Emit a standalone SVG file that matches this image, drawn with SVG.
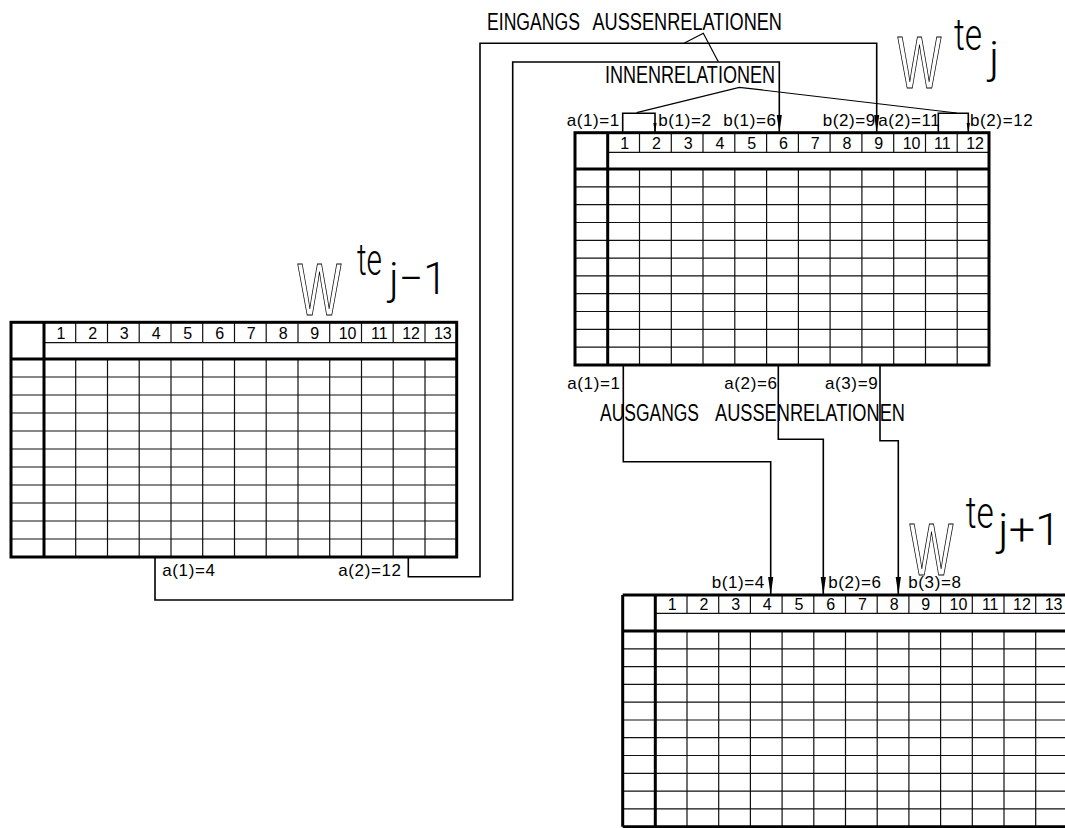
<svg xmlns="http://www.w3.org/2000/svg" width="1065" height="828" viewBox="0 0 1065 828">
<style>
text{font-family:"Liberation Sans",Arial,sans-serif;fill:#000}
.thick{stroke:#000;stroke-width:3;fill:none}
.thin{stroke:#111;stroke-width:1.2;fill:none}
.conn{stroke:#000;stroke-width:1.6;fill:none}
.lead{stroke:#000;stroke-width:1.2;fill:none}
.lbl{font-size:17px;letter-spacing:0.6px}
.num{font-size:16px;text-anchor:middle}
.big{font-size:23.3px}
.W{font-size:75px;fill:none;stroke:#000;stroke-width:1.1}
.sup{font-family:Roboto,"Liberation Sans",Arial,sans-serif;font-weight:300;font-size:45px}
</style>
<defs>
<marker id="ab" markerUnits="userSpaceOnUse" markerWidth="18" markerHeight="6" viewBox="0 0 18 6" refX="18" refY="3" orient="auto"><path d="M0,0.4 L18,3 L0,5.6 z" fill="#000"/></marker>
<marker id="as" markerUnits="userSpaceOnUse" markerWidth="10" markerHeight="4" viewBox="0 0 10 4" refX="10" refY="2" orient="auto"><path d="M0,0.3 L10,2 L0,3.7 z" fill="#000"/></marker>
</defs>
<rect width="1065" height="828" fill="#fff"/>

<!-- Table W^te_j -->
<g id="table-tej">
<path class="thin" d="M607.7 152.3H989M639.5 132.7V152.3M671.3 132.7V152.3M703 132.7V152.3M734.8 132.7V152.3M766.6 132.7V152.3M798.4 132.7V152.3M830.1 132.7V152.3M861.9 132.7V152.3M893.7 132.7V152.3M925.5 132.7V152.3M957.2 132.7V152.3M639.5 169V365M671.3 169V365M703 169V365M734.8 169V365M766.6 169V365M798.4 169V365M830.1 169V365M861.9 169V365M893.7 169V365M925.5 169V365M957.2 169V365M575 186.8H989M575 204.6H989M575 222.5H989M575 240.3H989M575 258.1H989M575 275.9H989M575 293.7H989M575 311.5H989M575 329.4H989M575 347.2H989"/>
<rect class="thick" x="575" y="132.7" width="414" height="232.3"/>
<path class="thick" d="M607.7 132.7V365M575 169H989"/>
<g class="num">
<text x="624.6" y="148.5">1</text><text x="656.4" y="148.5">2</text><text x="688.2" y="148.5">3</text><text x="719.9" y="148.5">4</text><text x="751.7" y="148.5">5</text><text x="783.5" y="148.5">6</text><text x="815.2" y="148.5">7</text><text x="847" y="148.5">8</text><text x="878.8" y="148.5">9</text><text x="911.6" y="148.5">10</text><text x="942.3" y="148.5">11</text><text x="975.1" y="148.5">12</text>
</g>
<text class="W" transform="translate(897.5,88.3) scale(0.62,1)">W</text>
<text class="sup" x="954" y="50" textLength="28" lengthAdjust="spacingAndGlyphs">te</text>
<text class="sup" x="989" y="72.5">j</text>
</g>

<!-- Table W^te_j-1 -->
<g id="table-tej-1">
<path class="thin" d="M44 342.7H456.7M75.7 322.3V342.7M107.5 322.3V342.7M139.2 322.3V342.7M171 322.3V342.7M202.7 322.3V342.7M234.5 322.3V342.7M266.2 322.3V342.7M298 322.3V342.7M329.7 322.3V342.7M361.5 322.3V342.7M393.2 322.3V342.7M425 322.3V342.7M75.7 359V557M107.5 359V557M139.2 359V557M171 359V557M202.7 359V557M234.5 359V557M266.2 359V557M298 359V557M329.7 359V557M361.5 359V557M393.2 359V557M425 359V557M11 377H456.7M11 395H456.7M11 413H456.7M11 431H456.7M11 449H456.7M11 467H456.7M11 485H456.7M11 503H456.7M11 521H456.7M11 539H456.7"/>
<rect class="thick" x="11" y="322.3" width="445.7" height="234.7"/>
<path class="thick" d="M44 322.3V557M11 359H456.7"/>
<g class="num">
<text x="60.9" y="338.5">1</text><text x="92.6" y="338.5">2</text><text x="124.3" y="338.5">3</text><text x="156.1" y="338.5">4</text><text x="187.8" y="338.5">5</text><text x="219.6" y="338.5">6</text><text x="251.3" y="338.5">7</text><text x="283.1" y="338.5">8</text><text x="314.8" y="338.5">9</text><text x="347.6" y="338.5">10</text><text x="379.3" y="338.5">11</text><text x="411.1" y="338.5">12</text><text x="442.8" y="338.5">13</text>
</g>
<text class="W" transform="translate(297.5,315) scale(0.62,1)">W</text>
<text class="sup" x="357" y="275" textLength="25" lengthAdjust="spacingAndGlyphs">te</text>
<text class="sup" x="389" y="293.5" textLength="58" lengthAdjust="spacingAndGlyphs">j−1</text>
<text class="lbl" x="162.3" y="575.5">a(1)=4</text>
<text class="lbl" x="338.3" y="575.5">a(2)=12</text>
</g>

<!-- Table W^te_j+1 -->
<g id="table-tej1">
<path class="thin" d="M655.3 613.3H1070M687 595V613.3M718.7 595V613.3M750.4 595V613.3M782.1 595V613.3M813.8 595V613.3M845.5 595V613.3M877.2 595V613.3M908.9 595V613.3M940.6 595V613.3M972.3 595V613.3M1004 595V613.3M1035.7 595V613.3M687 631V826.7M718.7 631V826.7M750.4 631V826.7M782.1 631V826.7M813.8 631V826.7M845.5 631V826.7M877.2 631V826.7M908.9 631V826.7M940.6 631V826.7M972.3 631V826.7M1004 631V826.7M1035.7 631V826.7M622.7 648.8H1070M622.7 666.6H1070M622.7 684.4H1070M622.7 702.2H1070M622.7 720H1070M622.7 737.7H1070M622.7 755.5H1070M622.7 773.3H1070M622.7 791.1H1070M622.7 808.9H1070"/>
<path class="thick" d="M622.7 595H1070M622.7 595V826.7M655.3 595V826.7M622.7 631H1070M622.7 826.7H1070"/>
<g class="num">
<text x="672.2" y="609.5">1</text><text x="703.9" y="609.5">2</text><text x="735.6" y="609.5">3</text><text x="767.3" y="609.5">4</text><text x="799" y="609.5">5</text><text x="830.7" y="609.5">6</text><text x="862.4" y="609.5">7</text><text x="894.1" y="609.5">8</text><text x="925.8" y="609.5">9</text><text x="958.5" y="609.5">10</text><text x="990.2" y="609.5">11</text><text x="1021.9" y="609.5">12</text><text x="1053.6" y="609.5">13</text>
</g>
<text class="W" transform="translate(909.5,575) scale(0.62,1)">W</text>
<text class="sup" x="965.7" y="528" textLength="28" lengthAdjust="spacingAndGlyphs">te</text>
<text class="sup" x="998" y="545" textLength="63" lengthAdjust="spacingAndGlyphs">j+1</text>
</g>

<!-- Connectors -->
<g id="connectors">
<path class="conn" d="M408.3 557V576.7H480V43.3H876.7V132.7" marker-end="url(#ab)"/>
<path class="conn" d="M155 557V600H512.7V62H779.3V132.7" marker-end="url(#ab)"/>
<path class="conn" d="M622.7 132.7V113.3H655V132.7" marker-end="url(#as)"/>
<path class="conn" d="M938.3 132.7V113.3H968.3V132.7" marker-end="url(#as)"/>
<path class="conn" d="M623.3 365V461.7H770.7V595" marker-end="url(#ab)"/>
<path class="conn" d="M778.3 365V439.3H823.3V595" marker-end="url(#ab)"/>
<path class="conn" d="M880 365V440.7H898.3V595" marker-end="url(#ab)"/>
<path class="lead" d="M684 43.3L703.3 33.3L718.3 61.7"/>
<path class="lead" d="M636.7 112.7L739.3 87.3L956.7 113"/>
</g>

<!-- Labels -->
<g id="labels">
<text class="big" x="487" y="30" textLength="93" lengthAdjust="spacingAndGlyphs">EINGANGS</text>
<text class="big" x="592.5" y="30" textLength="189.5" lengthAdjust="spacingAndGlyphs">AUSSENRELATIONEN</text>
<text class="big" x="605" y="83.3" textLength="170" lengthAdjust="spacingAndGlyphs">INNENRELATIONEN</text>
<text class="big" x="600" y="420.7" textLength="99" lengthAdjust="spacingAndGlyphs">AUSGANGS</text>
<text class="big" x="715" y="420.7" textLength="190" lengthAdjust="spacingAndGlyphs">AUSSENRELATIONEN</text>
<text class="lbl" x="566.7" y="126">a(1)=1</text>
<text class="lbl" x="658.3" y="126">b(1)=2</text>
<text class="lbl" x="723.3" y="126">b(1)=6</text>
<text class="lbl" x="822.7" y="126">b(2)=9</text>
<text class="lbl" x="878.3" y="126">a(2)=11</text>
<text class="lbl" x="970" y="126">b(2)=12</text>
<text class="lbl" x="567.3" y="389">a(1)=1</text>
<text class="lbl" x="724.3" y="389">a(2)=6</text>
<text class="lbl" x="825" y="389">a(3)=9</text>
<text class="lbl" x="711.7" y="588">b(1)=4</text>
<text class="lbl" x="828.3" y="588">b(2)=6</text>
<text class="lbl" x="908.3" y="588">b(3)=8</text>
</g>
</svg>
